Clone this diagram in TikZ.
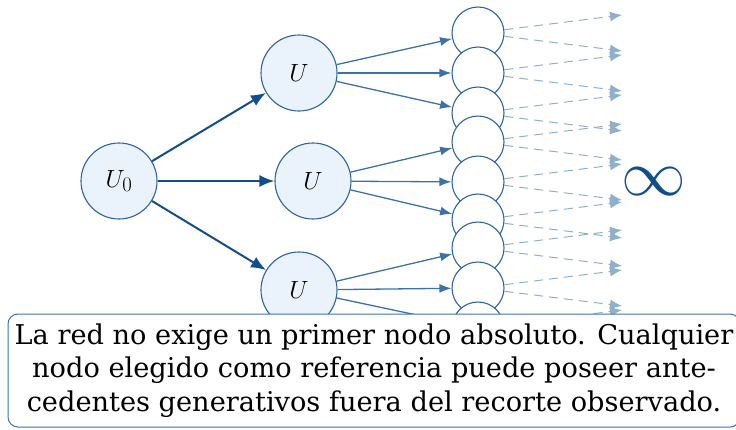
\documentclass[tikz,border=0pt]{standalone}
\usepackage[no-math]{fontspec}
\setmainfont{DejaVu Serif}
\usetikzlibrary{arrows.meta}
\definecolor{nodefill}{HTML}{EAF3FC}
\definecolor{nodeline}{HTML}{2E64A0}
\definecolor{mainarrow}{HTML}{124F8A}
\definecolor{childarrow}{HTML}{3D72A8}
\definecolor{fararrow}{HTML}{8FB0CC}
\begin{document}
\begin{tikzpicture}[x=1pt,y=1pt,
    unode/.style={circle,draw=nodeline,fill=nodefill,line width=1.1pt,minimum size=76pt,
        inner sep=0pt,font=\Huge},
    leaf/.style={circle,draw=nodeline,fill=white,line width=1.1pt,minimum size=52pt,inner sep=0pt},
    main/.style={draw=mainarrow,line width=2pt,-{Latex[length=15pt,width=12pt]}},
    sub/.style={draw=childarrow,line width=1.3pt,-{Latex[length=12pt,width=9pt]}},
    far/.style={draw=fararrow,line width=1pt,dash pattern=on 9pt off 6pt,-{Latex[length=12pt,width=10pt]}},
    notebox/.style={draw=childarrow,fill=white,line width=1pt,rounded corners=10pt,
        minimum width=732pt,minimum height=113pt,align=center,font=\fontsize{27.2}{33.5}\selectfont}]
    \useasboundingbox (0,0) rectangle (736,-429);
    % root and first level
    \node[unode](u0) at (119,-181){$U_0$};
    \node[unode](u1) at (299,-73){$U$};
    \node[unode](u2) at (313,-181){$U$};
    \node[unode](u3) at (299,-290){$U$};
    \foreach \i in {1,2,3}
        \draw[main] (u0) -- (u\i);
    % second level
    \foreach \y [count=\k] in {33,73,113,142,182,220,248,288,328}
        \node[leaf](l\k) at (478,-\y){};
    \foreach \p/\k in {1/1,1/2,1/3,2/4,2/5,2/6,3/7,3/8,3/9}
        \draw[sub] (u\p) -- (l\k);
    % open continuation
    \foreach \k in {1,...,9}{
        \path (l\k) ++(144,18) coordinate (ta\k);
        \path (l\k) ++(144,-18) coordinate (tb\k);
        \draw[far] (l\k) -- (ta\k);
        \draw[far] (l\k) -- (tb\k);
    }
    \node[text=mainarrow,font=\Huge,scale=2.6,transform shape](inf) at (654,-182){$\infty$};
    \node[notebox](note) at (374,-370.5){La red no exige un primer nodo absoluto. Cualquier\\
        nodo elegido como referencia puede poseer ante-\\
        cedentes generativos fuera del recorte observado.};
\end{tikzpicture}
\end{document}
